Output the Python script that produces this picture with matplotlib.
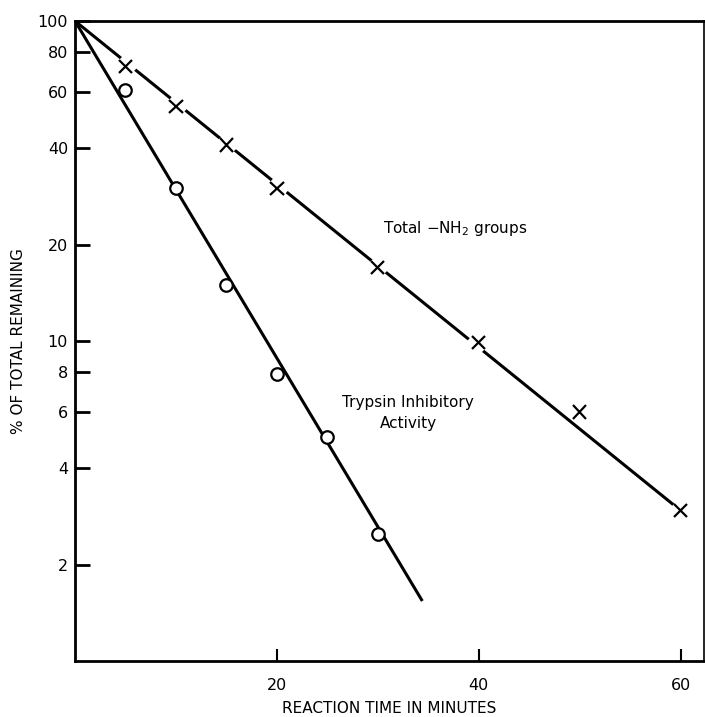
import matplotlib
matplotlib.use("Agg")
import matplotlib.pyplot as plt
import matplotlib.patheffects as pe
from matplotlib.ticker import FixedLocator, NullLocator

# reaction time (min) vs % remaining
nh2_time = [5, 10, 15, 20, 30, 40, 50, 60]
nh2_pct = [72, 54, 41, 30, 17, 9.9, 6.0, 2.95]
tia_time = [5, 10, 15, 20, 25, 30]
tia_pct = [61, 30, 15, 7.9, 5.0, 2.5]

# drawn straight lines (start / end)
nh2_fit_t = [0, 60]
nh2_fit_p = [100, 2.95]
tia_fit_t = [0, 34.4]
tia_fit_p = [100, 1.54]

yticks = [2, 4, 6, 8, 10, 20, 40, 60, 80, 100]
xticks = [20, 40, 60]

plt.rcParams['font.family'] = ['DejaVu Sans']

fig = plt.figure(figsize=(7.05, 7.17), dpi=100)
ax = fig.add_axes([75/705, 56/717, 629/705, 640/717])

ax.plot(nh2_fit_t, nh2_fit_p, color='black', lw=2.2, solid_capstyle='butt')
ax.plot(tia_fit_t, tia_fit_p, color='black', lw=2.2, solid_capstyle='butt')

white = [pe.withStroke(linewidth=10, foreground='white')]
ax.plot(nh2_time, nh2_pct, ls='none', marker='x', ms=9.5, mew=1.6,
        color='black', path_effects=white)
ax.plot(tia_time, tia_pct, ls='none', marker='o', ms=9, mew=1.6,
        mfc='white', mec='black')

ax.set_yscale('log')
ax.set_ylim(1, 100)
ax.set_xlim(0, 62.3)
ax.yaxis.set_major_locator(FixedLocator(yticks))
ax.yaxis.set_minor_locator(NullLocator())
ax.set_yticklabels([str(v) for v in yticks])
ax.set_xticks(xticks)

ax.tick_params(axis='y', direction='in', length=11, width=2, labelsize=11.5, pad=5)
ax.tick_params(axis='x', direction='in', length=9, width=1.5, labelsize=11.5, pad=12)

for s in ['left', 'bottom', 'top']:
    ax.spines[s].set_linewidth(2)
ax.spines['right'].set_linewidth(1.2)

ax.set_xlabel('REACTION TIME IN MINUTES', fontsize=11, labelpad=6)
ax.set_ylabel('% OF TOTAL REMAINING', fontsize=11, labelpad=8)

ax.text(30.5, 22.5, 'Total $-$NH$_2$ groups', fontsize=11, va='center', ha='left')
ax.text(33, 5.95, 'Trypsin Inhibitory\nActivity', fontsize=11, va='center',
        ha='center', linespacing=1.5)

fig.savefig('out.png', dpi=100)
